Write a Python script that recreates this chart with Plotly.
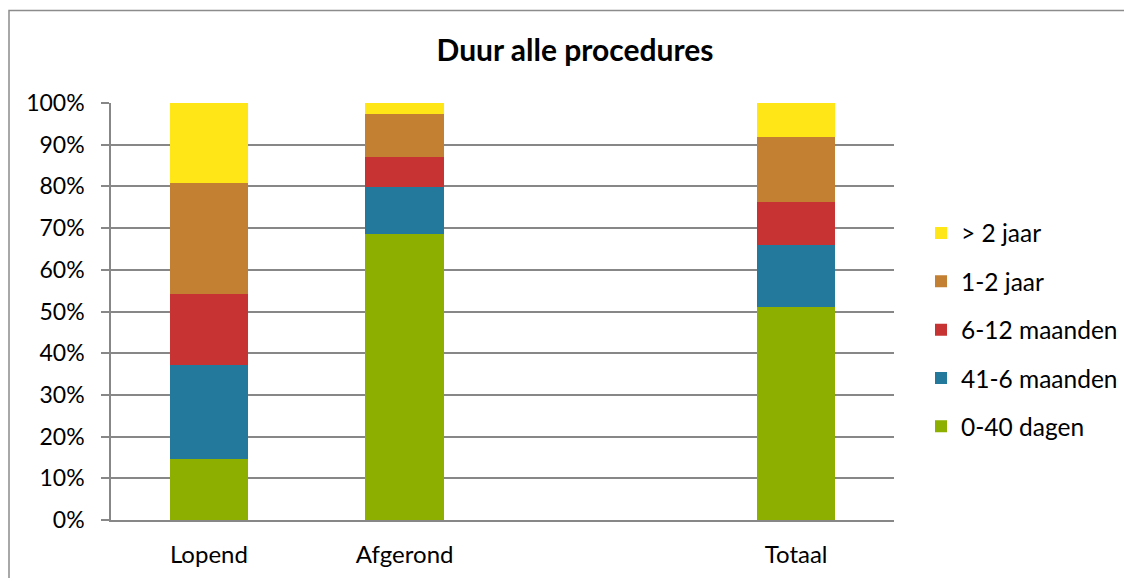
import plotly.graph_objects as go

categories = ["Lopend", "Afgerond", " ", "Totaal"]
series_names = ["0-40 dagen", "41-6 maanden", "6-12 maanden", "1-2 jaar", "> 2 jaar"]
v_0_40_dagen = [0.146, 0.686, None, 0.510]
v_41_6_maanden = [0.225, 0.112, None, 0.149]
v_6_12_maanden = [0.170, 0.072, None, 0.104]
v_1_2_jaar = [0.268, 0.104, None, 0.156]
v_gt_2_jaar = [0.191, 0.026, None, 0.081]
colors = ["#8CAF00", "#23799C", "#C73333", "#C48032", "#FFE616"]
y_ticks = [i / 10 for i in range(11)]
y_tick_labels = [f"{i * 10}%" for i in range(11)]

series_values = [v_0_40_dagen, v_41_6_maanden, v_6_12_maanden, v_1_2_jaar, v_gt_2_jaar]

FONT = "Lato, 'Open Sans', sans-serif"
GRID = "#878787"

fig = go.Figure()
n = len(series_names)
for i, (name, vals, col) in enumerate(zip(series_names, series_values, colors)):
    fig.add_trace(go.Bar(
        x=categories, y=vals, name=name, legendgroup=name,
        legendrank=n - i,
        marker=dict(color=col, line=dict(width=0)),
        hoverinfo="name+y",
    ))

# page has an 8px body margin: shift everything by -8
OFF = 8
W, H = 1132 - OFF, 578 - OFF
L, R, T, B = 111 - OFF, 894 - OFF, 103 - OFF, 520 - OFF

fig.update_layout(
    width=W, height=H,
    margin=dict(l=L, r=W - R, t=T, b=H - B, autoexpand=False),
    barmode="stack", bargap=0.6,
    paper_bgcolor="white", plot_bgcolor="white",
    font=dict(family=FONT, size=23, color="black"),
    title=dict(text="<b>Duur alle procedures</b>", x=(575 - OFF) / W, xanchor="center",
               y=1 - (50 - OFF) / H, yanchor="middle",
               font=dict(family=FONT, size=30, color="black")),
    legend=dict(
        x=(921 - OFF - L) / (R - L), xanchor="left",
        y=(B - (330 - OFF)) / (B - T), yanchor="middle",
        traceorder="grouped", tracegroupgap=13.5,
        font=dict(family=FONT, size=24.5, color="black"),
        bgcolor="rgba(0,0,0,0)",
    ),
    xaxis=dict(
        type="category", categoryorder="array", categoryarray=categories,
        showline=True, linecolor=GRID, linewidth=1.5,
        showgrid=False, ticks="", ticklabelstandoff=12,
        tickfont=dict(family=FONT, size=24, color="black"),
    ),
    yaxis=dict(
        range=[0, 1], tickvals=y_ticks, ticktext=y_tick_labels,
        showline=True, linecolor=GRID, linewidth=1.5,
        showgrid=True, gridcolor=GRID, gridwidth=1.5,
        ticks="outside", ticklen=8, tickcolor=GRID, tickwidth=1.5,
        ticklabelstandoff=12, zeroline=False,
        tickfont=dict(family=FONT, size=23, color="black"),
    ),
    shapes=[dict(
        type="rect", xref="paper", yref="paper",
        x0=(9 - OFF - L) / (R - L), x1=(W + 20 - L) / (R - L),
        y0=(B - (H + 20)) / (B - T), y1=(B - (10.5 - OFF)) / (B - T),
        line=dict(color="#8C8C8C", width=1.5), fillcolor="rgba(0,0,0,0)",
        layer="below",
    )],
)

fig.write_html("out.html")
